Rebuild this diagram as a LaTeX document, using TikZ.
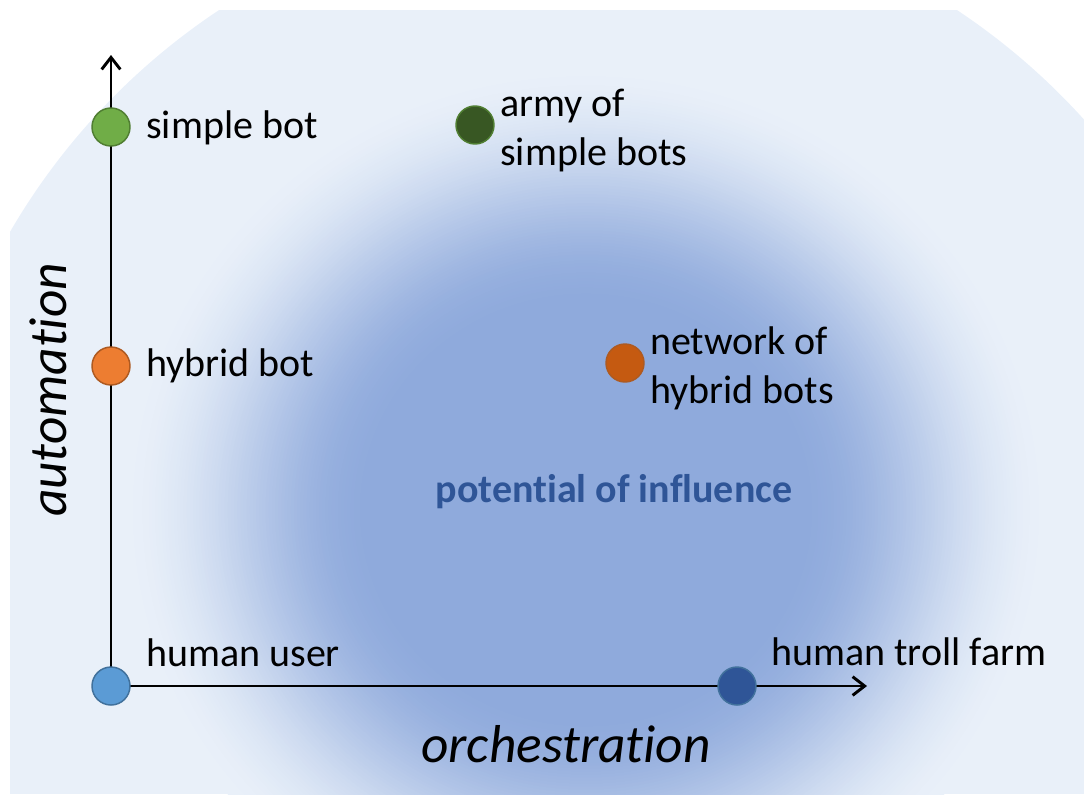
\documentclass[tikz,border=0pt]{standalone}
\usepackage{fontspec}
\setmainfont{Carlito}[Ligatures=NoCommon]
\usetikzlibrary{arrows.meta}
\definecolor{bdark}{RGB}{143,170,220}
\definecolor{blight}{RGB}{233,240,249}
\definecolor{cgreen}{RGB}{112,173,71}
\definecolor{cgreenb}{RGB}{80,126,50}
\definecolor{cdgreen}{RGB}{56,87,35}
\definecolor{corange}{RGB}{237,125,49}
\definecolor{corangeb}{RGB}{174,90,33}
\definecolor{cdorange}{RGB}{197,90,17}
\definecolor{cblue}{RGB}{91,155,213}
\definecolor{cblueb}{RGB}{65,113,156}
\definecolor{cdblue}{RGB}{47,85,151}
\pgfdeclarelayer{bg}
\pgfdeclarelayer{axes}
\pgfsetlayers{bg,axes,main}
\begin{document}
\begin{tikzpicture}[x=0.75pt,y=-0.75pt,
  dot/.style={circle,minimum size=28.5pt,inner sep=0pt,line width=1.1pt},
  lbl/.style={font=\fontsize{30}{36.75}\selectfont,inner sep=0pt,text=black},
  axislbl/.style={font=\fontsize{40}{44}\selectfont\itshape,inner sep=0pt,text=black},
  axisline/.style={line width=2.2pt,-{Straight Barb[length=9pt,width=14pt]}}]
\useasboundingbox (0,0) rectangle (1084,794);
\begin{pgfonlayer}{bg}
\begin{scope}
\clip (10,10) rectangle (1084,794);
\clip (588,567) circle [radius=668];
\fill[blight] (0,0) rectangle (1084,794);
\coordinate (bc) at (586,510);
\foreach \i in {0,...,79}{
  \pgfmathsetmacro\f{0.99-\i*0.53/79}
  \pgfmathsetmacro\t{\i/79}
  \pgfmathsetmacro\p{100*(3*\t*\t-2*\t*\t*\t)}
  \fill[bdark!\p!blight] (bc) ellipse [x radius=\f*470, y radius=\f*450];
}
\end{scope}
\end{pgfonlayer}

\node[dot,fill=cblue,draw=cblueb] (hu) at (111,686) {};
\node[dot,fill=corange,draw=corangeb] (hb) at (111,366) {};
\node[dot,fill=cgreen,draw=cgreenb] (sb) at (111,127) {};
\node[dot,fill=cdblue,draw=cblueb] (tf) at (737,686) {};
\node[dot,fill=cdgreen,draw=cgreenb] (asb) at (475,125) {};
\node[dot,fill=cdorange,draw=corangeb] (nhb) at (625,363) {};

\coordinate (ytip) at (111,55);
\coordinate (xtip) at (867,686);
\begin{pgfonlayer}{axes}
\draw[axisline] (hu.center) -- (ytip);
\draw[axisline] (hu.center) -- (xtip);
\end{pgfonlayer}

\node[lbl,anchor=base west] (sbl) at (146,138) {simple bot};
\node[lbl,anchor=base west] (hbl) at (146,376) {hybrid bot};
\node[lbl,anchor=base west] (hul) at (146,666) {human user};
\node[lbl,anchor=base west] (tfl) at (771,665) {human troll farm};
\node[lbl,anchor=west,align=left] (asbl) at (500,131) {army of\\simple bots};
\node[lbl,anchor=west,align=left] (nhbl) at (650,368) {network of\\hybrid bots};
\node[lbl,anchor=base,font=\fontsize{30}{36}\selectfont\bfseries,text=cdblue] (pi) at (614,502) {potential of influence};
\node[axislbl,anchor=base] (orch) at (566,762) {orchestration};
\node[axislbl,rotate=90] (auto) at (48,390) {automation};
\end{tikzpicture}
\end{document}
